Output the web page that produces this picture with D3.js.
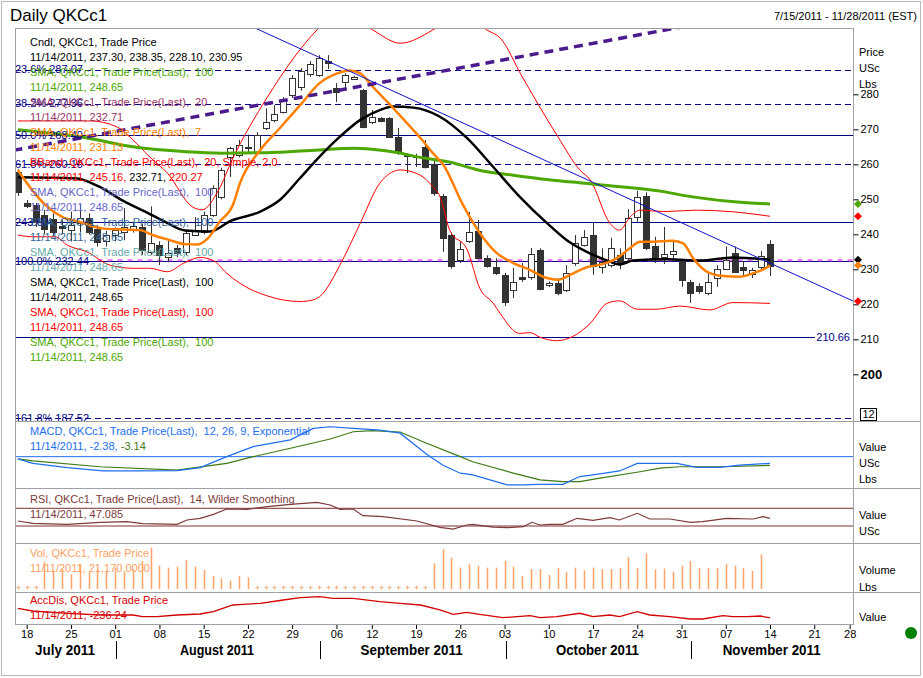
<!DOCTYPE html>
<html>
<head>
<meta charset="utf-8">
<script src="https://cdn.jsdelivr.net/npm/d3@7"></script>
<style>
   body { margin: 0; background: #fff; }
   text { font-family: "Liberation Sans", Arial, sans-serif; white-space: pre; }
</style>
</head>
<body>
<svg id="chart"></svg>
<script>

// TRADING DAYS SHOWN ON THE AXIS (JUL 15 - NOV 28 2011)
const tradingDays = ('7/15 7/18 7/19 7/20 7/21 7/22 7/25 7/26 7/27 7/28 7/29 ' +
   '8/1 8/2 8/3 8/4 8/5 8/8 8/9 8/10 8/11 8/12 8/15 8/16 8/17 8/18 8/19 8/22 8/23 8/24 8/25 8/26 8/29 8/30 8/31 ' +
   '9/1 9/2 9/6 9/7 9/8 9/9 9/12 9/13 9/14 9/15 9/16 9/19 9/20 9/21 9/22 9/23 9/26 9/27 9/28 9/29 9/30 ' +
   '10/3 10/4 10/5 10/6 10/7 10/10 10/11 10/12 10/13 10/14 10/17 10/18 10/19 10/20 10/21 10/24 10/25 10/26 10/27 10/28 10/31 ' +
   '11/1 11/2 11/3 11/4 11/7 11/8 11/9 11/10 11/11 11/14 11/15 11/16 11/17 11/18 11/21 11/22 11/23 11/25 11/28').split(' ');

// CANDLES (JUL 15 - NOV 14)
const openPx = [257.8, 249.0, 248.4, 245.5, 244.4, 242.5, 241.2, 243.2, 244.7, 241.5, 238.2,
   239.8, 240.7, 241.2, 242.1, 235.0, 236.9, 233.5, 236.1, 235.0, 239.8, 240.7, 245.5, 250.7, 262.1, 262.7,
   264.5, 263.5, 270.4, 272.7, 274.9, 279.8, 282.1, 285.8, 285.5, 289.5, 281.8, 283.5, 284.4, 281.2,
   272.1, 273.2, 273.2, 267.8, 262.6, 262.2, 264.9, 260.1, 251.0, 239.8, 232.7, 238.1, 241.0, 233.2, 230.7,
   228.4, 224.1, 227.7, 227.8, 235.5, 225.7, 226.1, 224.1, 231.8, 237.0, 239.8, 230.8, 231.2, 234.0, 233.2,
   244.9, 251.0, 236.7, 233.5, 234.4, 232.5, 226.4, 225.2, 223.2, 227.5, 230.0, 234.7, 230.6, 228.7, 230.6, 237.30];
const highPx = [258.6, 249.8, 249.0, 247.0, 246.0, 244.0, 246.5, 248.5, 246.0, 242.5, 241.0,
   242.0, 247.5, 243.5, 243.0, 248.0, 238.0, 238.3, 237.0, 241.0, 244.9, 246.5, 254.0, 259.0, 265.0, 267.0,
   268.5, 269.2, 276.0, 276.9, 279.2, 285.5, 287.5, 289.5, 291.2, 291.2, 283.2, 286.0, 285.3, 281.5,
   275.5, 273.5, 273.5, 270.4, 263.2, 263.0, 266.9, 261.0, 251.5, 240.5, 238.0, 246.4, 244.1, 234.0, 233.2,
   229.0, 230.4, 231.8, 236.1, 236.0, 226.6, 227.5, 231.2, 239.8, 241.2, 243.4, 236.0, 239.0, 236.0, 247.2,
   252.4, 252.0, 239.3, 242.1, 238.1, 233.0, 227.0, 226.0, 229.0, 231.2, 236.5, 236.5, 232.4, 230.4, 235.2, 238.35];
const lowPx = [251.0, 247.5, 242.1, 240.0, 239.5, 240.0, 238.0, 240.5, 240.0, 236.5, 236.5,
   238.0, 238.3, 240.5, 234.1, 234.1, 231.2, 232.0, 233.5, 234.0, 239.5, 240.0, 245.0, 250.0, 256.4, 262.0,
   263.5, 262.8, 269.8, 272.0, 274.5, 279.0, 281.0, 285.0, 285.0, 287.2, 277.8, 281.2, 284.1, 270.3,
   271.5, 272.0, 267.5, 262.7, 257.5, 259.2, 258.8, 251.0, 235.0, 230.2, 231.8, 237.5, 232.8, 230.5, 228.4,
   219.5, 221.8, 226.4, 227.0, 224.0, 224.9, 222.6, 223.5, 231.0, 236.5, 228.4, 228.8, 230.5, 230.0, 232.5,
   243.6, 235.5, 231.8, 231.5, 232.5, 225.0, 220.4, 223.0, 222.6, 225.0, 230.0, 229.0, 228.0, 227.5, 229.5, 228.10];
const closePx = [252.1, 248.1, 243.5, 241.5, 240.7, 241.8, 242.7, 244.6, 240.7, 237.8, 239.8,
   241.2, 242.1, 242.4, 235.5, 237.5, 234.1, 234.7, 234.7, 240.4, 241.2, 245.5, 253.2, 258.4, 264.7, 265.5,
   264.9, 268.4, 272.1, 274.4, 278.4, 284.7, 286.7, 288.7, 290.4, 289.0, 280.6, 285.5, 285.0, 270.7,
   273.5, 272.4, 267.8, 263.5, 262.2, 262.5, 259.2, 251.8, 239.0, 231.0, 235.8, 240.7, 233.2, 231.0, 229.0,
   220.7, 226.4, 227.2, 234.4, 224.4, 226.2, 223.2, 229.0, 237.5, 239.2, 231.0, 232.1, 236.1, 231.8, 244.7,
   250.7, 236.1, 233.2, 234.4, 235.3, 227.0, 223.2, 223.8, 226.4, 230.0, 232.7, 229.3, 229.8, 229.8, 233.8, 230.95];

// PRICE INDICATORS AS [DAY INDEX, VALUE]
const sma100 = [[0, 269.9], [4, 268.8], [7, 267.9], [13, 265.0], [19, 263.6], [23, 263.2], [28, 263.3],
   [34, 264.1], [38, 264.6], [40, 264.3], [43, 263.3], [45, 262.2], [49, 260.5], [52, 258.4], [56, 256.9],
   [60, 255.6], [64, 254.6], [66, 254.1], [73, 252.2], [75, 251.2], [81, 249.3], [85, 248.65]];
const sma20 = [[0, 256.3], [6.5, 256.0], [9.2, 253.6], [11.8, 249.7], [14.6, 246.2], [16.6, 243.6],
   [18.9, 241.1], [21.7, 240.8], [24, 243.8], [27.4, 246.5], [29.6, 249.8], [31.9, 256.1], [34.1, 262.2],
   [36.4, 267.9], [38.7, 272.7], [40.9, 275.5], [42.4, 276.5], [44.7, 276.2], [47.7, 273.6], [50.8, 267.4],
   [53.7, 259.3], [56.7, 250.8], [59.8, 243.2], [62, 238.4], [64.3, 235.0], [66.6, 232.5], [68, 231.4],
   [69.5, 232.5], [73.4, 232.9], [77.1, 232.5], [80.8, 233.4], [85, 232.71]];
const sma7 = [[0, 258.4], [0.5, 256.5], [1.6, 252.7], [3.1, 248.4], [5, 245.0], [6.9, 243.6], [9.5, 241.7],
   [11.8, 241.4], [13.8, 241.2], [15.2, 239.8], [17.1, 238.4], [18.9, 237.2], [20.3, 237.1], [21.5, 238.9],
   [22.8, 243.6], [24.3, 248.4], [25.1, 254.6], [27.4, 264.1], [29.6, 270.3], [31.9, 276.9], [34.1, 283.2],
   [36.1, 286.0], [37.5, 286.8], [38.7, 286.0], [40.1, 282.2], [42.1, 276.9], [44, 271.7], [45.4, 267.8],
   [46.9, 263.2], [48.1, 259.8], [50.3, 248.4], [52.2, 240.4], [54.1, 234.7], [56, 231.8], [57.9, 229.8],
   [59.8, 227.5], [61, 227.0], [62.4, 228.4], [64.3, 230.6], [66.1, 231.5], [67.7, 233.2], [69.2, 236.1],
   [70.3, 237.9], [71.4, 237.9], [74, 238.2], [75.2, 237.4], [76.3, 233.2], [77.9, 229.3], [79.7, 228.1],
   [81.6, 227.9], [83.1, 228.9], [84.7, 230.6], [85, 231.13]];
const bbUpper = [[0, 272.4], [8.2, 272.4], [11.2, 270.7], [13, 267.0], [14.9, 262.1], [16.9, 257.5],
   [19.7, 247.9], [20.8, 247.0], [22.7, 252.7], [24.2, 261.2], [28.2, 279.2], [33.8, 298.4], [36, 303.5],
   [38, 301.5], [40.1, 298.4], [43.2, 294.6], [46.9, 298.4], [50, 304.0], [53, 298.4], [54.5, 296.1],
   [57, 285.0], [61, 268.0], [63.5, 258.4], [64.7, 255.5], [66.9, 243.2], [68, 241.2], [69.2, 245.0],
   [70.3, 246.9], [73, 246.5], [76.7, 246.9], [80.5, 246.5], [85, 245.16]];
const bbLower = [[0, 239.8], [1.7, 239.3], [4.2, 239.3], [5.6, 236.9], [7.8, 235.0], [10.4, 231.2],
   [13, 230.3], [14.9, 230.3], [16.9, 229.3], [18.7, 231.7], [20.6, 233.4], [22.1, 232.5], [23.6, 228.9],
   [25.1, 226.0], [28.2, 222.4], [31.9, 220.8], [33.4, 221.3], [34.1, 222.2], [36.7, 232.7], [38.7, 243.2],
   [40.9, 254.6], [42.4, 257.9], [43.2, 258.4], [45.4, 257.0], [46.9, 253.6], [47.7, 250.8], [48.8, 241.2],
   [50.8, 235.5], [52.2, 224.6], [53.7, 220.4], [54.5, 217.4], [56.7, 211.7], [57.9, 211.9], [59, 210.6],
   [60.9, 209.6], [62.7, 210.8], [64.7, 214.6], [66.6, 220.3], [68, 221.0], [70, 218.6], [72.2, 218.6],
   [74.8, 219.5], [78.2, 218.4], [80.8, 220.5], [85, 220.27]];

// DRAWN STUDIES ON THE PRICE PANEL
const fibValues = [287.07, 277.36, 268.40, 260.10, 243.60, 232.44, 210.66, 187.52];
const fibLabels = ['23.6% 287.07', '38.2% 277.36', '50.0% 268.40', '61.8% 260.10', '243.60',
   '100.0% 232.44', '210.66', '161.8% 187.52'];
const pinkLevel = {from: 9, value: 232.6};
const purpleTrend = [[-0.5, 264.0], [76, 299.7]];
const blueTrend = [[20, 306.8], [94.5, 220.8]];
const lastMarks = [248.65, 245.16, 232.71, 231.13, 220.9];

// MACD / SIGNAL
const macd = [[0, -0.8], [1.7, -2.4], [5.6, -3.9], [9.6, -5.1], [13.8, -5.1], [18, -5.0], [20.6, -3.9],
   [23.6, 0], [26.6, 3.6], [30.8, 6.0], [33.4, 10.1], [35.3, 10.7], [37.9, 10.1], [40.9, 9.5], [43.2, 8.4],
   [46.2, 0.9], [48, -3.0], [50, -5.9], [51.4, -6.5], [55.3, -10.1], [57.1, -10.1], [58.7, -9.9], [61.6, -9.9],
   [63.5, -7.1], [65, -6.5], [68, -5.1], [70, -2.4], [74.5, -2.4], [76.7, -3.8], [79.3, -3.8], [81.6, -3.0], [85, -2.38]];
const signal = [[0, -0.8], [1.7, -1.5], [9.3, -3.6], [18, -4.8], [23.6, -2.4], [26.6, 0], [30.8, 3.0],
   [35.3, 6.3], [37.9, 8.9], [40.1, 9.3], [43.2, 8.8], [46.2, 4.8], [50, 0], [51.4, -1.8], [56, -5.9],
   [59, -8.3], [61.6, -8.9], [63.5, -8.9], [65.8, -7.7], [70.3, -5.4], [72.6, -4.1], [74.8, -3.6],
   [79.3, -3.6], [85, -3.14]];
const macdLevel = 0;

// RSI
const rsi = [[0, 41.3], [1.7, 36.1], [5.6, 33.8], [9.3, 38.4], [12.3, 39.7], [14.1, 35.3], [18, 33.8],
   [19.1, 43.6], [20.6, 47.4], [22.1, 56.4], [23.6, 68.4], [25.9, 67.7], [28.2, 73.6], [30.8, 79.0],
   [33.8, 83.6], [35.3, 77.5], [36.4, 67.7], [37.9, 68.4], [39, 53.3], [41.3, 51.0], [45.1, 41.3],
   [47.7, 27.0], [49.2, 23.2], [50.7, 32.3], [51.4, 33.8], [53.7, 27.7], [55.3, 26.2], [57.1, 28.4],
   [58.1, 38.4], [59, 32.3], [60.1, 33.8], [61.6, 33.8], [63.2, 47.4], [65, 42.9], [66.9, 48.8], [68, 43.6],
   [70, 58.7], [71.4, 45.8], [73.7, 45.8], [76, 38.4], [77.4, 39.7], [80.1, 47.4], [83.1, 45.8],
   [84.2, 51.0], [85, 47.085]];
const rsiLevels = [70, 30];

// VOLUME (NULL = NO TRADE RECORDED)
const volume = [null, null, null, 16650, 10980, 12200, 8970, 15070, 10550, 12200, 10980,
   13000, 10550, 12200, 17080, 25200, 14210, 13000, 13600, 17500, 13600, 11590, 7930, 6530, 5060, 7930,
   7140, null, null, null, null, null, null, null, null, null, null, null, null, null,
   null, null, null, null, null, null, null, 15680, 24220, 19090, 13000, 15070, 14210, 13000, 13000,
   17080, 13600, 7930, 12200, 12200, 8540, 12630, 10190, 13000, 11410, 13000, 12200, 12200, 12630, 19340,
   12630, 21780, 12020, 12430, 10550, 14210, 17080, 12630, 12630, 12630, 15070, 14210, 12630, 10980, 21170];

// ACCUMULATION / DISTRIBUTION
const accDis = [[0, 56], [1.7, -26], [5.6, -95], [9.3, -147], [13, -147], [14.1, -198], [15.7, -198],
   [18, -147], [20.6, -117], [22.1, -47], [24.3, 156], [25.4, 177], [27.4, 208], [30, 308], [31.9, 377],
   [34.1, 408], [35.6, 359], [37.9, 359], [40.9, 256], [43.2, 208], [45.5, 156], [47.7, 5], [49.2, -126],
   [50.7, -65], [52.2, -126], [54.8, -229], [56.4, -198], [57.9, -168], [59, -229], [60.9, -198], [63.5, -95],
   [65, -198], [66.9, -147], [68, -198], [70, -47], [71.4, -147], [73.7, -198], [76, -268], [77.4, -268],
   [79.7, -168], [80.8, -198], [82.4, -198], [83.9, -177], [85, -236.24]];

// AXIS LABELS
const weekTickDays = [1, 6, 11, 16, 21, 26, 31, 36, 40, 45, 50, 55, 60, 65, 70, 75, 80, 85, 90, 94];
const weekTickLabels = ['18', '25', '01', '08', '15', '22', '29', '06', '12', '19', '26', '03', '10', '17',
   '24', '31', '07', '14', '21', '28'];
const monthNames = ['July 2011', 'August 2011', 'September 2011', 'October 2011', 'November 2011'];
const monthStarts = [0, 11, 34, 55, 76];
const priceTicks = [200, 210, 220, 230, 240, 250, 260, 270, 280];

// LEGEND TEXTS [TEXT, COLOUR KEY]
const priceLegend = [
   [['Cndl, QKCc1, Trade Price', 'ink']],
   [['11/14/2011, 237.30, 238.35, 228.10, 230.95', 'ink']],
   [['SMA, QKCc1, Trade Price(Last),  100', 'green']],
   [['11/14/2011, 248.65', 'green']],
   [['SMA, QKCc1, Trade Price(Last),  20', 'plum']],
   [['11/14/2011, 232.71', 'plum']],
   [['SMA, QKCc1, Trade Price(Last),  7', 'orange']],
   [['11/14/2011, 231.13', 'orange']],
   [['BBand, QKCc1, Trade Price(Last),  20, Simple, 2.0', 'red']],
   [['11/14/2011, 245.16, ', 'red'], ['232.71', 'ink'], [', ', 'ink'], ['220.27', 'red']],
   [['SMA, QKCc1, Trade Price(Last),  100', 'slate']],
   [['11/14/2011, 248.65', 'slate']],
   [['SMA, QKCc1, Trade Price(Last),  100', 'steel']],
   [['11/14/2011, 248.65', 'steel']],
   [['SMA, QKCc1, Trade Price(Last),  100', 'teal']],
   [['11/14/2011, 248.65', 'teal']],
   [['SMA, QKCc1, Trade Price(Last),  100', 'ink']],
   [['11/14/2011, 248.65', 'ink']],
   [['SMA, QKCc1, Trade Price(Last),  100', 'red']],
   [['11/14/2011, 248.65', 'red']],
   [['SMA, QKCc1, Trade Price(Last),  100', 'green']],
   [['11/14/2011, 248.65', 'green']]
];
const macdLegend = [[['MACD, QKCc1, Trade Price(Last),  12, 26, 9, Exponential', 'macd']],
   [['11/14/2011, -2.38, ', 'macd'], ['-3.14', 'signal']]];
const rsiLegend = [[['RSI, QKCc1, Trade Price(Last),  14, Wilder Smoothing', 'rsi']], [['11/14/2011, 47.085', 'rsi']]];
const volLegend = [[['Vol, QKCc1, Trade Price', 'vol']], [['11/11/2011, 21,170.0000', 'vol']]];
const accLegend = [[['AccDis, QKCc1, Trade Price', 'acc']], [['11/14/2011, -236.24', 'acc']]];

// COLOURS
const colour = {
   ink: '#000', green: '#4ca800', plum: '#993366', orange: '#ff8000', red: '#ff0000',
   slate: '#6666cc', steel: '#336699', teal: '#66aaaa', navy: '#000080', macd: '#1e6ef0',
   signal: '#3f7a12', rsi: '#7d3a3a', vol: '#ffa060', acc: '#d40000', frame: '#a0a0a8', pink: '#f070f0'
};

// CANVAS
const W = 923, H = 678;
const svg = d3.select('#chart').attr('width', W).attr('height', H);
svg.append('rect').attr('width', W).attr('height', H).attr('fill', '#fff');

// PANELS
const left = 15, right = 853;
const panel = {
   price: [28, 421], macd: [421, 488], rsi: [488, 543], vol: [543, 592], acc: [592, 625]
};

// SCALES
const x = d3.scaleLinear().domain([-0.322, 94.38]).range([left, right]);
const yPrice = d3.scaleLinear().domain([186.95, 298.95]).range([420, 28]);
const yMacd = d3.scaleLinear().domain([-11.2, 12.75]).range([488, 421]);
const yRsi = d3.scaleLinear().domain([-8.4, 115.9]).range([543, 488]);
const yVol = d3.scaleLinear().domain([0, 28000]).range([589, 543]);
const yAcc = d3.scaleLinear().domain([-450, 550]).range([625, 592]);

// CLIP PATHS
const defs = svg.append('defs');
Object.keys(panel).forEach(k => {
   defs.append('clipPath').attr('id', 'clip-' + k).append('rect')
      .attr('x', left).attr('y', panel[k][0])
      .attr('width', right - left).attr('height', panel[k][1] - panel[k][0]);
});

// LINE FACTORY
function pathOf(yScale, curve) {
   return d3.line().x(d => x(d[0])).y(d => yScale(d[1])).curve(curve || d3.curveLinear);
}

// ---------- PRICE PANEL ----------
const gP = svg.append('g').attr('clip-path', 'url(#clip-price)');

// FIB / LEVEL LINES
const fibDash = [true, true, false, true, false, false, false, true];
fibValues.forEach((v, i) => {
   const isRight = fibLabels[i] === '210.66';
   gP.append('line')
      .attr('x1', left).attr('x2', isRight ? 815 : right)
      .attr('y1', Math.round(yPrice(v)) + 0.5).attr('y2', Math.round(yPrice(v)) + 0.5)
      .attr('stroke', colour.navy).attr('stroke-width', 1)
      .attr('stroke-dasharray', fibDash[i] ? '6,4' : null);
});

// PINK LEVEL
gP.append('line')
   .attr('x1', x(pinkLevel.from)).attr('x2', right)
   .attr('y1', yPrice(pinkLevel.value)).attr('y2', yPrice(pinkLevel.value))
   .attr('stroke', colour.pink).attr('stroke-width', 2).attr('stroke-dasharray', '5,5');

// CANDLES
const candles = closePx.map((c, i) => ({ i: i, o: openPx[i], h: highPx[i], l: lowPx[i], c: c }));
gP.selectAll('.wick').data(candles).enter().append('line')
   .attr('class', 'wick')
   .attr('x1', d => Math.round(x(d.i)) + 0.5).attr('x2', d => Math.round(x(d.i)) + 0.5)
   .attr('y1', d => yPrice(d.h)).attr('y2', d => yPrice(d.l))
   .attr('stroke', '#333').attr('stroke-width', 1);
gP.selectAll('.body').data(candles).enter().append('rect')
   .attr('class', 'body')
   .attr('x', d => Math.round(x(d.i)) - 2.5).attr('width', 6)
   .attr('y', d => Math.round(yPrice(Math.max(d.o, d.c))) + 0.5)
   .attr('height', d => Math.max(1, Math.round(Math.abs(yPrice(d.o) - yPrice(d.c)))))
   .attr('fill', d => d.c < d.o ? '#333' : '#fff')
   .attr('stroke', '#333').attr('stroke-width', 1);

// BOLLINGER BANDS
[bbUpper, bbLower].forEach(s => {
   gP.append('path').attr('d', pathOf(yPrice, d3.curveMonotoneX)(s))
      .attr('fill', 'none').attr('stroke', colour.red).attr('stroke-width', 1);
});

// MOVING AVERAGES
gP.append('path').attr('d', pathOf(yPrice, d3.curveMonotoneX)(sma100))
   .attr('fill', 'none').attr('stroke', colour.green).attr('stroke-width', 3);
gP.append('path').attr('d', pathOf(yPrice, d3.curveMonotoneX)(sma20))
   .attr('fill', 'none').attr('stroke', '#000').attr('stroke-width', 2.5);
gP.append('path').attr('d', pathOf(yPrice, d3.curveMonotoneX)(sma7))
   .attr('fill', 'none').attr('stroke', colour.orange).attr('stroke-width', 2.5);

// TRENDLINES
gP.append('path').attr('d', pathOf(yPrice)(purpleTrend))
   .attr('fill', 'none').attr('stroke', '#4b1a8c').attr('stroke-width', 3.5).attr('stroke-dasharray', '9,6');
gP.append('path').attr('d', pathOf(yPrice)(blueTrend))
   .attr('fill', 'none').attr('stroke', '#1010c8').attr('stroke-width', 1);

// LEVEL LABELS
fibValues.forEach((v, i) => {
   const isRight = fibLabels[i] === '210.66';
   svg.append('text')
      .attr('x', isRight ? 850 : left).attr('y', yPrice(v)).attr('dy', '0.35em')
      .attr('text-anchor', isRight ? 'end' : 'start')
      .attr('font-size', 11).attr('fill', colour.navy)
      .text(fibLabels[i]);
});

// LEGEND WRITER
function legend(lines, x0, y0) {
   lines.forEach((segs, k) => {
      const t = svg.append('text').attr('x', x0).attr('y', y0 + k * 15).attr('dy', '0.35em')
         .attr('font-size', 11);
      segs.forEach(s => t.append('tspan').attr('fill', colour[s[1]]).text(s[0]));
   });
}
legend(priceLegend, 30, 42);

// ---------- MACD PANEL ----------
const gM = svg.append('g').attr('clip-path', 'url(#clip-macd)');
gM.append('line').attr('x1', left).attr('x2', right)
   .attr('y1', yMacd(macdLevel)).attr('y2', yMacd(macdLevel))
   .attr('stroke', colour.macd).attr('stroke-width', 1);
gM.append('path').attr('d', pathOf(yMacd)(signal))
   .attr('fill', 'none').attr('stroke', colour.signal).attr('stroke-width', 1.2);
gM.append('path').attr('d', pathOf(yMacd)(macd))
   .attr('fill', 'none').attr('stroke', colour.macd).attr('stroke-width', 1.2);
legend(macdLegend, 30, 431);

// ---------- RSI PANEL ----------
const gR = svg.append('g').attr('clip-path', 'url(#clip-rsi)');
rsiLevels.forEach(v => {
   gR.append('line').attr('x1', left).attr('x2', right)
      .attr('y1', yRsi(v)).attr('y2', yRsi(v))
      .attr('stroke', '#803030').attr('stroke-width', 1);
});
gR.append('path').attr('d', pathOf(yRsi)(rsi))
   .attr('fill', 'none').attr('stroke', colour.rsi).attr('stroke-width', 1.2);
legend(rsiLegend, 30, 499);

// ---------- VOLUME PANEL ----------
const gV = svg.append('g').attr('clip-path', 'url(#clip-vol)');
const vols = volume.map((v, i) => ({ i: i, v: v }));
gV.selectAll('.vbar').data(vols.filter(d => d.v !== null)).enter().append('line')
   .attr('x1', d => Math.round(x(d.i)) + 0.5).attr('x2', d => Math.round(x(d.i)) + 0.5)
   .attr('y1', yVol(0)).attr('y2', d => yVol(d.v))
   .attr('stroke', '#ffa366').attr('stroke-width', 1.5);
gV.selectAll('.vmark').data(vols.filter(d => d.v === null)).enter().append('path')
   .attr('d', d => {
      const cx = Math.round(x(d.i)) + 0.5, cy = yVol(0) - 1.5;
      return 'M' + (cx - 2) + ',' + cy + 'H' + (cx + 2) + 'M' + cx + ',' + (cy - 2) + 'V' + (cy + 2);
   })
   .attr('stroke', '#ffb380').attr('stroke-width', 1);
legend(volLegend, 30, 553);

// ---------- ACC/DIS PANEL ----------
const gA = svg.append('g').attr('clip-path', 'url(#clip-acc)');
gA.append('path').attr('d', pathOf(yAcc)(accDis))
   .attr('fill', 'none').attr('stroke', colour.acc).attr('stroke-width', 1.3);
legend(accLegend, 30, 600);

// ---------- FRAME ----------
svg.append('rect').attr('x', 1.5).attr('y', 1.5).attr('width', 919).attr('height', 674)
   .attr('fill', 'none').attr('stroke', '#b8b8b8');
svg.append('rect').attr('x', left + 0.5).attr('y', 28.5).attr('width', right - left).attr('height', 596)
   .attr('fill', 'none').attr('stroke', colour.frame);
[421, 488, 543, 592].forEach(yy => {
   svg.append('line').attr('x1', left).attr('x2', 920).attr('y1', yy + 0.5).attr('y2', yy + 0.5)
      .attr('stroke', colour.frame);
});

// ---------- PRICE AXIS ----------
const axP = svg.append('g').attr('transform', 'translate(' + (right + 0.5) + ',0)')
   .call(d3.axisRight(yPrice).tickValues(priceTicks).tickSize(5).tickPadding(2).tickFormat(d3.format('d')));
axP.select('.domain').remove();
axP.selectAll('text').attr('font-size', 11).attr('font-family', '"Liberation Sans", Arial, sans-serif')
   .attr('fill', '#000');
axP.selectAll('line').attr('stroke', '#000');
axP.selectAll('.tick').filter(d => d === 200).select('text')
   .attr('font-size', 13).attr('font-weight', 'bold');

// LAST VALUE DIAMONDS
const markColour = [colour.green, colour.red, '#000', colour.orange, colour.red];
lastMarks.forEach((v, i) => {
   svg.append('path').attr('d', 'M0,-4L4,0L0,4L-4,0Z')
      .attr('transform', 'translate(858,' + yPrice(v) + ')')
      .attr('fill', markColour[i]);
});

// SCALE BOX
svg.append('rect').attr('x', 860.5).attr('y', 408.5).attr('width', 16).attr('height', 12)
   .attr('fill', '#fff').attr('stroke', '#000');
svg.append('text').attr('x', 868.5).attr('y', 414.5).attr('dy', '0.35em').attr('text-anchor', 'middle')
   .attr('font-size', 11).text('12');

// UNIT LABELS
const unitText = [['Price', 52], ['USc', 68], ['Lbs', 84], ['Value', 447], ['USc', 463], ['Lbs', 479],
   ['Value', 515], ['USc', 531], ['Volume', 570], ['Lbs', 587], ['Value', 617]];
unitText.forEach(u => {
   svg.append('text').attr('x', 859).attr('y', u[1]).attr('dy', '0.35em')
      .attr('font-size', 11).attr('fill', '#000').text(u[0]);
});

// ---------- DATE AXIS ----------
const axD = svg.append('g').attr('transform', 'translate(0,625)')
   .call(d3.axisBottom(x).tickValues(weekTickDays).tickSize(4).tickPadding(1).tickSizeOuter(0)
      .tickFormat((d, i) => weekTickLabels[i]));
axD.select('.domain').remove();
axD.selectAll('text').attr('font-size', 11).attr('font-family', '"Liberation Sans", Arial, sans-serif')
   .attr('fill', '#000');
axD.selectAll('line').attr('stroke', '#000');

// MONTH BANDS
const monthWidths = [60, 74, 102, 83, 98];
monthStarts.forEach((s, k) => {
   const x0 = k === 0 ? left : x(s);
   const x1 = k === monthStarts.length - 1 ? right : x(monthStarts[k + 1]);
   if (k > 0) {
      svg.append('line').attr('x1', Math.round(x0) + 1.5).attr('x2', Math.round(x0) + 1.5)
         .attr('y1', 641).attr('y2', 659).attr('stroke', '#000');
   }
   svg.append('text').attr('x', (x0 + x1) / 2).attr('y', 655).attr('text-anchor', 'middle')
      .attr('font-size', 14).attr('font-weight', 'bold')
      .attr('font-family', '"Liberation Sans Narrow", "Liberation Sans", Arial, sans-serif')
      .attr('textLength', monthWidths[k]).attr('lengthAdjust', 'spacingAndGlyphs')
      .text(monthNames[k]);
});

// STATUS DOT
svg.append('circle').attr('cx', 911).attr('cy', 633).attr('r', 6).attr('fill', '#008000');

// TITLE + RANGE
svg.append('text').attr('x', 10).attr('y', 21).attr('font-size', 17).attr('fill', '#000').text('Daily QKCc1');
svg.append('text').attr('x', 917).attr('y', 20).attr('text-anchor', 'end').attr('font-size', 11)
   .attr('fill', '#000').text('7/15/2011 - 11/28/2011 (EST)');

</script>
</body>
</html>
